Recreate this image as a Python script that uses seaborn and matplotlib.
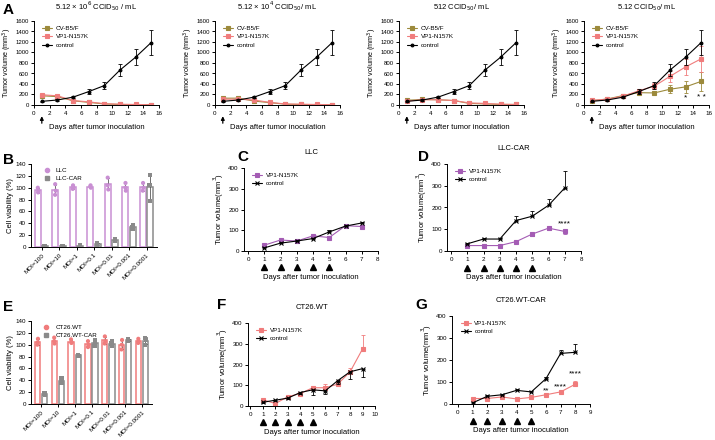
import numpy as np
import pandas as pd
import matplotlib
matplotlib.use("Agg")
import matplotlib.pyplot as plt
import matplotlib.transforms as mtrans
from matplotlib.lines import Line2D
import seaborn as sns

# ---------------- data ----------------
days_a = [1, 3, 5, 7, 9, 11, 13, 15]
ctrl_a = [70, 95, 150, 255, 370, 665, 910, 1190]
ctrl_a_err = [8, 12, 20, 45, 65, 115, 150, 240]

titles_a = ["5.12 × 10$^6$ CCID$_{50}$ / mL", "5.12 × 10$^4$ CCID$_{50}$/ mL",
            "512 CCID$_{50}$/ mL", "5.12 CCID$_{50}$/ mL"]
cv_a = [[175, 160, 80, 50, 20, 10, 5, 5],
        [130, 130, 75, 45, 15, 10, 5, 5],
        [90, 105, 100, 85, 30, 20, 10, 10],
        [80, 115, 180, 235, 230, 300, 345, 450]]
cv_a_err = [[15, 15, 10, 8, 5, 3, 2, 2],
            [15, 15, 10, 8, 5, 3, 2, 2],
            [10, 10, 10, 10, 5, 5, 3, 3],
            [10, 15, 20, 30, 30, 80, 120, 180]]
vp_a = [[195, 175, 85, 60, 25, 15, 10, 5],
        [110, 110, 95, 50, 20, 15, 10, 5],
        [75, 100, 100, 85, 40, 30, 15, 10],
        [90, 110, 170, 270, 360, 545, 725, 880]]
vp_a_err = [[15, 15, 10, 8, 5, 3, 2, 2],
            [15, 15, 10, 8, 5, 3, 2, 2],
            [10, 10, 10, 10, 5, 5, 3, 3],
            [10, 15, 20, 30, 60, 100, 160, 250]]

moi = ["MOI=100", "MOI=10", "MOI=1", "MOI=0.1", "MOI=0.01", "MOI=0.001", "MOI=0.0001"]
llc_reps = [[100, 95, 92], [106, 95, 88], [104, 100, 98], [104, 102, 100],
            [117, 104, 97], [108, 100, 95], [108, 100, 95]]
llc_car_reps = [[2, 2, 1], [2, 2, 1], [3, 2, 2], [6, 5, 4],
                [14, 12, 10], [37, 33, 30], [122, 105, 78]]
ct26_reps = [[110, 104, 100], [112, 106, 102], [109, 104, 103], [106, 100, 96],
             [114, 106, 102], [108, 100, 92], [110, 106, 103]]
ct26_car_reps = [[18, 17, 16], [43, 38, 35], [83, 82, 81], [108, 103, 98],
                 [106, 102, 98], [110, 108, 106], [112, 108, 100]]

days_c = [1, 2, 3, 4, 5, 6, 7]
vp_c = [28, 53, 48, 73, 65, 122, 118]
vp_c_err = [4, 5, 4, 6, 5, 8, 6]
ctrl_c = [15, 38, 48, 60, 92, 120, 135]
ctrl_c_err = [3, 4, 4, 5, 8, 6, 6]

days_d = [1, 2, 3, 4, 5, 6, 7]
vp_d = [25, 25, 25, 43, 78, 105, 90]
vp_d_err = [3, 3, 3, 4, 8, 8, 12]
ctrl_d = [33, 55, 55, 140, 160, 210, 290]
ctrl_d_err = [3, 3, 5, 20, 25, 30, 80]

days_f = [1, 2, 3, 4, 5, 6, 7, 8, 9]
vp_f = [30, 12, 45, 60, 88, 88, 105, 165, 275]
vp_f_err = [5, 5, 5, 5, 8, 20, 20, 20, 65]
ctrl_f = [18, 28, 38, 65, 78, 73, 122, 165, 180]
ctrl_f_err = [5, 5, 5, 5, 25, 15, 15, 35, 40]

days_g = [1, 2, 3, 4, 5, 6, 7, 8]
vp_g = [25, 25, 32, 23, 30, 42, 55, 90]
vp_g_err = [3, 3, 4, 3, 4, 5, 6, 15]
ctrl_g = [5, 35, 42, 62, 55, 115, 230, 235]
ctrl_g_err = [3, 5, 5, 5, 5, 10, 15, 40]

dose_days = [1, 2, 3, 4, 5]

# ---------------- style ----------------
sns.set_theme(style="ticks")
plt.rcParams['font.family'] = ['Liberation Sans', 'DejaVu Sans']
plt.rcParams.update({
    'axes.linewidth': 0.7, 'xtick.major.width': 0.7, 'ytick.major.width': 0.7,
    'xtick.major.size': 2.5, 'ytick.major.size': 2.5,
    'xtick.labelsize': 4.5, 'ytick.labelsize': 4.5,
    'xtick.major.pad': 1.5, 'ytick.major.pad': 1.2,
    'axes.labelsize': 5.5, 'axes.titlesize': 5.5, 'axes.labelpad': 2,
    'axes.edgecolor': 'black', 'xtick.color': 'black', 'ytick.color': 'black',
    'text.color': 'black', 'axes.labelcolor': 'black',
})

OLIVE = "#9C8A3C"
PINK = "#F07C7C"
PURPLE = "#A45CB4"
LPURPLE = "#C98FD3"
GRAY = "#8A8A8A"

fig = plt.figure(figsize=(7.15, 4.4), dpi=100)


def px_axes(l, t, r, b):
    return fig.add_axes([l / 715, 1 - b / 440, (r - l) / 715, (b - t) / 440])


def draw_line(ax, x, y, err, color, marker, label, side="both", ms=3):
    sns.lineplot(x=x, y=y, color=color, marker=marker, markersize=ms,
                 markeredgecolor=color, markeredgewidth=0.8, linewidth=0.8,
                 label=label, ax=ax)
    z = [0] * len(err)
    lo = err if side in ("both", "down") else z
    hi = err if side in ("both", "up") else z
    ax.errorbar(x, y, yerr=[lo, hi], fmt='none', ecolor=color,
                elinewidth=0.6, capsize=1.5, capthick=0.6)


def small_legend(ax):
    ax.legend(loc='upper left', frameon=False, fontsize=4.5, handlelength=1.6,
              handletextpad=0.6, labelspacing=0.5, borderaxespad=0.3,
              bbox_to_anchor=(0.03, 1.0))


def panel_letter(x, y, s):
    fig.text(x / 715, 1 - y / 440, s, fontsize=11, fontweight='bold', va='center')


# ---------------- row A ----------------
a_lefts = [34, 215, 399, 584]
for i in range(4):
    ax = px_axes(a_lefts[i], 21, a_lefts[i] + 125, 105)
    draw_line(ax, days_a, cv_a[i], cv_a_err[i], OLIVE, 's', 'CV-B5/F', ms=2.5)
    draw_line(ax, days_a, vp_a[i], vp_a_err[i], PINK, 's', 'VP1-N157K', ms=2.5)
    draw_line(ax, days_a, ctrl_a, ctrl_a_err, 'black', 'o', 'control', ms=2)
    ax.set_xlim(0, 16)
    ax.set_ylim(0, 1600)
    ax.set_xticks(range(0, 17, 2))
    ax.set_yticks(range(0, 1601, 200))
    ax.tick_params(axis='y', labelsize=4.3)
    ax.set_title(titles_a[i], pad=8)
    ax.set_ylabel("Tumor volume (mm$^3$)", fontsize=5.2, labelpad=0.8)
    ax.set_xlabel("Days after tumor inoculation", labelpad=6)
    small_legend(ax)
    sns.despine(ax=ax)
    tr = mtrans.blended_transform_factory(ax.transData, ax.transAxes)
    ax.annotate('', xy=(1, -0.1), xytext=(1, -0.25), xycoords=tr, textcoords=tr,
                arrowprops=dict(arrowstyle='-|>', color='black', lw=0.9,
                                mutation_scale=5), annotation_clip=False)
    if i == 3:
        ax.text(13, 110, '*', ha='center', fontsize=6)
        ax.text(15, 110, '* *', ha='center', fontsize=6)


# ---------------- bar panels ----------------
def bar_panel(ax, reps1, reps2, name1, name2, c1, c2):
    rows = []
    for m, r1, r2 in zip(moi, reps1, reps2):
        for v in r1:
            rows.append((m, name1, v))
        for v in r2:
            rows.append((m, name2, v))
    df = pd.DataFrame(rows, columns=['moi', 'line', 'value'])
    order = [name1, name2]
    pal = {name1: c1, name2: c2}
    sns.barplot(data=df, x='moi', y='value', hue='line', hue_order=order,
                palette=pal, fill=False, errorbar='sd', capsize=0.25,
                width=0.85, gap=0.25, linewidth=1.1,
                err_kws={'linewidth': 0.6, 'color': '0.35'}, legend=False, ax=ax)
    sns.stripplot(data=df[df.line == name1], x='moi', y='value', hue='line',
                  hue_order=order, palette=pal, dodge=True, jitter=0.05,
                  marker='o', size=3, legend=False, ax=ax)
    sns.stripplot(data=df[df.line == name2], x='moi', y='value', hue='line',
                  hue_order=order, palette=pal, dodge=True, jitter=0.05,
                  marker='s', size=3, legend=False, ax=ax)
    ax.set_ylim(0, 140)
    ax.set_yticks(range(0, 141, 20))
    ax.set_xlim(-0.6, 6.6)
    ax.set_xlabel("")
    ax.set_ylabel("Cell viability (%)", labelpad=1)
    ax.tick_params(axis='x', labelrotation=45)
    for lab in ax.get_xticklabels():
        lab.set_ha('right')
        lab.set_rotation_mode('anchor')
    handles = [Line2D([], [], ls='none', marker='o', color=c1, ms=3),
               Line2D([], [], ls='none', marker='s', color=c2, ms=3)]
    ax.legend(handles, order, loc='upper left', frameon=False, fontsize=4.5,
              handlelength=1.2, labelspacing=0.4, bbox_to_anchor=(0.05, 1.02))
    sns.despine(ax=ax)


axB = px_axes(31, 164, 157, 247)
bar_panel(axB, llc_reps, llc_car_reps, 'LLC', 'LLC-CAR', LPURPLE, GRAY)
axE = px_axes(31, 321, 152, 404)
bar_panel(axE, ct26_reps, ct26_car_reps, 'CT26.WT', 'CT26.WT-CAR', PINK, GRAY)


# ---------------- tumor panels ----------------
def tumor_panel(ax, x, vp, vp_err, vp_side, ctrl, ctrl_err, ctrl_side, color,
                title, xmax, xmin):
    draw_line(ax, x, vp, vp_err, color, 's', 'VP1-N157K', side=vp_side, ms=3)
    draw_line(ax, x, ctrl, ctrl_err, 'black', 'x', 'control', side=ctrl_side, ms=3)
    ax.set_xlim(xmin, xmax)
    ax.set_ylim(0, 400)
    ax.set_xticks(range(0, xmax + 1))
    ax.set_yticks(range(0, 401, 100))
    ax.set_title(title, pad=10)
    ax.set_ylabel("Tumor volume(mm$^3$)")
    ax.set_xlabel("Days after tumor inoculation", labelpad=9)
    small_legend(ax)
    sns.despine(ax=ax)
    tr = mtrans.blended_transform_factory(ax.transData, ax.transAxes)
    ax.plot(dose_days, [-0.19] * len(dose_days), ls='none', marker='^',
            color='black', ms=4, transform=tr, clip_on=False)


axC = px_axes(244, 168, 378, 251)
tumor_panel(axC, days_c, vp_c, vp_c_err, 'both', ctrl_c, ctrl_c_err, 'up',
            PURPLE, 'LLC', 8, -0.25)
axD = px_axes(447, 164, 581, 251)
tumor_panel(axD, days_d, vp_d, vp_d_err, 'down', ctrl_d, ctrl_d_err, 'up',
            PURPLE, 'LLC-CAR', 8, -0.25)
axD.text(7, 118, '****', ha='center', fontsize=6)
axF = px_axes(248, 323, 375, 406)
tumor_panel(axF, days_f, vp_f, vp_f_err, 'up', ctrl_f, ctrl_f_err, 'down',
            PINK, 'CT26.WT', 10, -0.2)
axG = px_axes(452, 316, 590, 404)
tumor_panel(axG, days_g, vp_g, vp_g_err, 'up', ctrl_g, ctrl_g_err, 'up',
            PINK, 'CT26.WT-CAR', 9, -0.4)
axG.text(6, 52, '**', ha='center', fontsize=6)
axG.text(7, 72, '****', ha='center', fontsize=6)
axG.text(8, 128, '****', ha='center', fontsize=6)

# ---------------- panel letters ----------------
panel_letter(3, 10, 'A')
panel_letter(3, 160, 'B')
panel_letter(237, 157, 'C')
panel_letter(418, 157, 'D')
panel_letter(3, 307, 'E')
panel_letter(217, 305, 'F')
panel_letter(415, 305, 'G')

fig.savefig("out.png", dpi=100)
